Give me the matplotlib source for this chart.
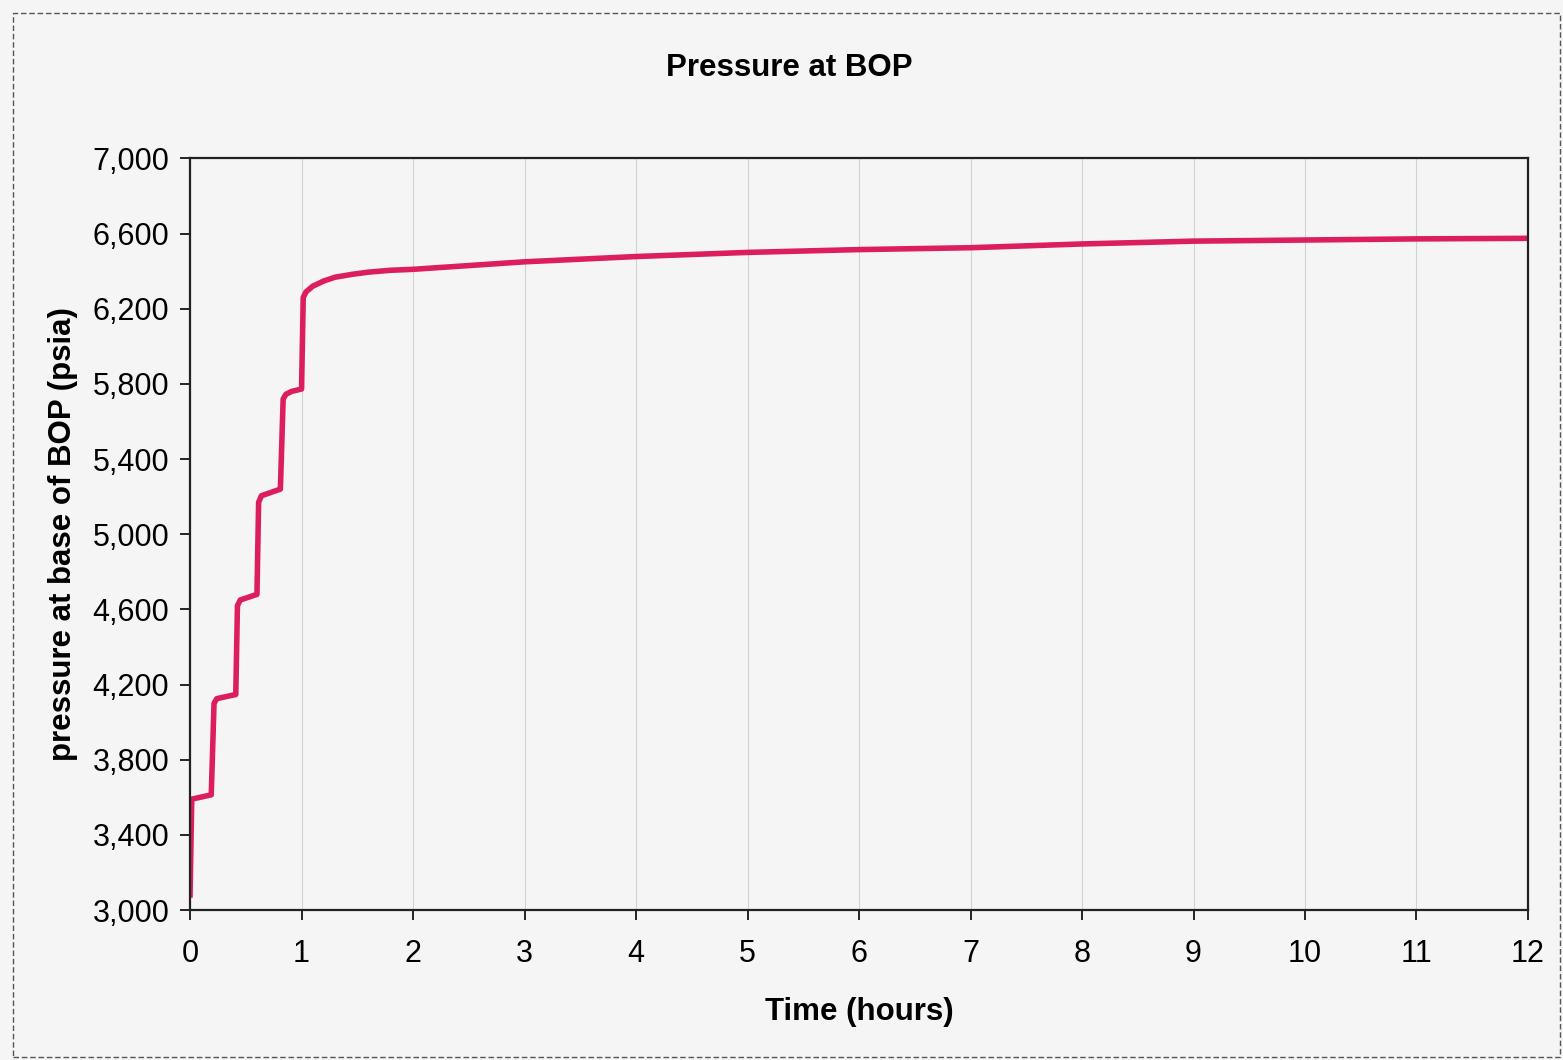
import matplotlib.pyplot as plt
from matplotlib.patches import Rectangle
from matplotlib.ticker import FuncFormatter

# Pressure at base of BOP vs time
time_hours = [0.0, 0.015, 0.19, 0.215, 0.24, 0.41, 0.425, 0.45, 0.60, 0.615, 0.64,
              0.81, 0.835, 0.86, 0.91, 1.00, 1.015, 1.04, 1.1, 1.2, 1.3, 1.45,
              1.6, 1.8, 2.0, 3.0, 4.0, 5.0, 6.0, 7.0, 8.0, 9.0, 10.0, 11.0, 12.0]
pressure_psia = [3080, 3590, 3613, 4100, 4125, 4147, 4620, 4650, 4680, 5170, 5205,
                 5240, 5720, 5745, 5760, 5773, 6260, 6290, 6320, 6348, 6368, 6383,
                 6395, 6405, 6410, 6450, 6478, 6500, 6515, 6525, 6545, 6560, 6566, 6572, 6575]

x_ticks = list(range(0, 13))
y_ticks = list(range(3000, 7001, 400))

plt.rcParams['font.family'] = ['Liberation Sans', 'DejaVu Sans']

fig = plt.figure(figsize=(15.63, 10.6), dpi=100, facecolor='#f5f5f5')
ax = fig.add_axes([0.1216, 0.1415, 0.856, 0.709])
ax.set_facecolor('#f5f5f5')

ax.plot(time_hours, pressure_psia, color='#dc1f5c', linewidth=4, solid_joinstyle='round')

ax.set_xlim(0, 12)
ax.set_ylim(3000, 7000)
ax.set_xticks(x_ticks)
ax.set_yticks(y_ticks)
ax.yaxis.set_major_formatter(FuncFormatter(lambda v, p: f'{int(v):,}'))
ax.tick_params(axis='both', labelsize=22, direction='out', length=7, width=1.2)
ax.tick_params(axis='x', pad=14)
ax.tick_params(axis='y', pad=8)
ax.grid(axis='x', color='#d2d2d2', linewidth=0.8)
for s in ax.spines.values():
    s.set_linewidth(1.6)
    s.set_color('#222222')

ax.set_xlabel('Time (hours)', fontsize=22.5, fontweight='bold', labelpad=20)
ax.set_ylabel('pressure at base of BOP (psia)', fontsize=22.5, fontweight='bold', labelpad=10)
fig.text(0.505, 0.936, 'Pressure at BOP', ha='center', va='center', fontsize=22.5, fontweight='bold')

# outer chart border
fig.patches.append(Rectangle((0.008, 0.003), 0.99, 0.985, transform=fig.transFigure,
                             fill=False, edgecolor='#555555', linewidth=1.0, linestyle=(0, (4, 2))))

fig.savefig('out.png', dpi=100, facecolor=fig.get_facecolor())
